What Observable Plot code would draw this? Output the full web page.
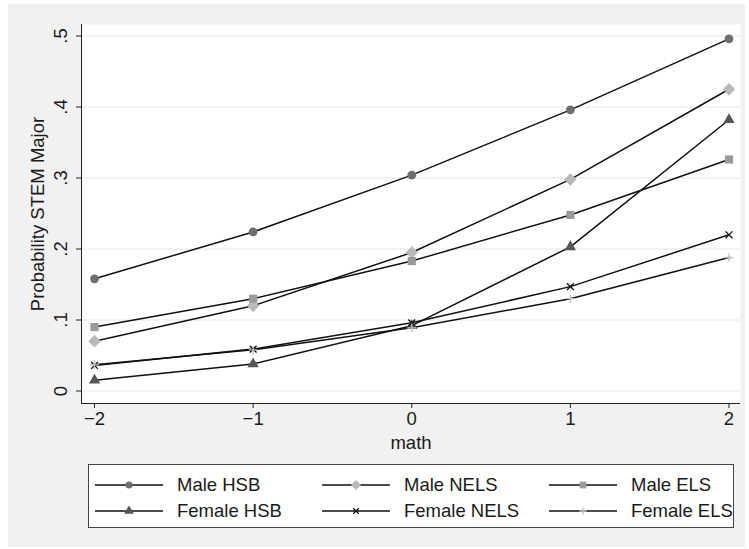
<!DOCTYPE html>
<html><head><meta charset="utf-8">
<script src="https://cdn.jsdelivr.net/npm/d3@7"></script>
<script src="https://cdn.jsdelivr.net/npm/@observablehq/plot@0.6"></script>
<style>
html,body{margin:0;padding:0;background:#fff;}
#wrap{position:relative;width:749px;height:549px;overflow:hidden;font-family:"Liberation Sans",Arial,Helvetica,sans-serif;}
#bg{position:absolute;left:8px;top:4px;width:737px;height:543px;background:#f1f1f1;}
#chart{position:absolute;left:0;top:0;}
#legend{position:absolute;left:88px;top:464px;overflow:visible;}
</style></head><body>
<div id="wrap"><div id="bg"></div><div id="chart"></div><svg id="legend" width="646" height="64"></svg></div>
<script>
// ---- data ----
const mathLevels = [-2, -1, 0, 1, 2];
const seriesNames = ["Male HSB", "Male NELS", "Male ELS", "Female HSB", "Female NELS", "Female ELS"];
const maleHSB    = [0.158, 0.224, 0.304, 0.396, 0.496];
const maleNELS   = [0.070, 0.120, 0.195, 0.298, 0.425];
const maleELS    = [0.090, 0.130, 0.183, 0.248, 0.326];
const femaleHSB  = [0.015, 0.038, 0.092, 0.203, 0.382];
const femaleNELS = [0.036, 0.059, 0.096, 0.147, 0.220];
const femaleELS  = [0.037, 0.058, 0.089, 0.130, 0.188];
const yTicks = [0, 0.1, 0.2, 0.3, 0.4, 0.5];
const yTickLabels = ["0", ".1", ".2", ".3", ".4", ".5"];
const xLabel = "math";
const yLabel = "Probability STEM Major";

// ---- styles ----
const seriesValues = [maleHSB, maleNELS, maleELS, femaleHSB, femaleNELS, femaleELS];
const seriesSymbols = ["circle", "diamond2", "square", "triangle", "times", "plus"];
const seriesFill = ["#6f6f6f", "#b9b9b9", "#9a9a9a", "#565656", "none", "none"];
const seriesStroke = ["none", "none", "none", "none", "#111", "#bdbdbd"];
const seriesR = [4.4, 5.6, 4.6, 4.2, 3.2, 2.9];
const FONT = '"Liberation Sans", Arial, Helvetica, sans-serif';
const FS = 18.5;

const rows = [];
seriesNames.forEach((s, i) => mathLevels.forEach((m, j) => rows.push({series: s, math: m, p: seriesValues[i][j], idx: i})));

const xDomain = [-2.082, 2.0725];
const yDomain = [-0.0176, 0.5162];

const dotMarks = seriesNames.map((s, i) => Plot.dot(rows.filter(d => d.idx === i), {
  x: "math", y: "p", symbol: () => seriesSymbols[i], r: seriesR[i],
  fill: seriesFill[i], stroke: seriesStroke[i], strokeWidth: 1.3
}));

const fmtInt = d3.format("d");

const plot = Plot.plot({
  width: 749, height: 460,
  marginLeft: 81, marginRight: 9, marginTop: 24, marginBottom: 57,
  style: {background: "transparent", fontFamily: FONT, fontSize: FS + "px", color: "#1a1a1a", overflow: "visible"},
  x: {domain: xDomain},
  y: {domain: yDomain},
  marks: [
    Plot.frame({fill: "white", stroke: "none"}),
    Plot.gridY(yTicks, {stroke: "#e6e6e6", strokeOpacity: 1, strokeWidth: 1}),
    Plot.ruleX([xDomain[0]], {stroke: "#222", strokeWidth: 1}),
    Plot.ruleY([yDomain[0]], {stroke: "#222", strokeWidth: 1}),
    Plot.axisY(yTicks, {tickFormat: d => yTickLabels[yTicks.indexOf(d)], tickRotate: -90, tickSize: 5, tickPadding: 10, label: null, stroke: "#222", fontSize: FS}),
    Plot.axisX(mathLevels, {tickFormat: d => fmtInt(d), tickSize: 5, tickPadding: 3, label: null, stroke: "#222", fontSize: FS}),
    Plot.line(rows, {x: "math", y: "p", z: "series", stroke: "#111", strokeWidth: 1.5}),
    ...dotMarks,
    Plot.text([yLabel], {text: d => d, frameAnchor: "left", dx: -43, rotate: -90, textAnchor: "middle", lineAnchor: "middle", fontSize: FS, fill: "#1a1a1a"}),
    Plot.text([xLabel], {text: d => d, frameAnchor: "bottom", dy: 40, textAnchor: "middle", lineAnchor: "middle", fontSize: FS, fill: "#1a1a1a"})
  ]
});
document.getElementById("chart").appendChild(plot);

// ---- legend ----
const lg = d3.select("#legend");
lg.append("rect").attr("x", 0.5).attr("y", 0.5).attr("width", 645).attr("height", 63)
  .attr("fill", "white").attr("stroke", "#444").attr("stroke-width", 1);
const symMap = {circle: d3.symbolCircle, diamond2: d3.symbolDiamond2, square: d3.symbolSquare, triangle: d3.symbolTriangle, times: d3.symbolTimes, plus: d3.symbolPlus};
const legR = [3.5, 4.6, 3.8, 3.6, 2.6, 2.5];
seriesNames.forEach((s, i) => {
  const col = i % 3, row = Math.floor(i / 3);
  const x0 = 7 + col * 227, y0 = 21 + row * 26;
  const g = lg.append("g").attr("transform", `translate(${x0},${y0})`);
  g.append("line").attr("x1", 0).attr("x2", 68).attr("y1", 0).attr("y2", 0).attr("stroke", "#111").attr("stroke-width", 1.5);
  g.append("path").attr("transform", "translate(34,0)")
    .attr("d", d3.symbol(symMap[seriesSymbols[i]], Math.PI * legR[i] * legR[i])())
    .attr("fill", seriesFill[i]).attr("stroke", seriesStroke[i]).attr("stroke-width", 1.3);
  g.append("text").attr("x", 82).attr("y", 0).attr("dy", "0.35em")
    .attr("font-family", FONT).attr("font-size", FS).attr("fill", "#1a1a1a").text(s);
});
</script>
</body></html>
